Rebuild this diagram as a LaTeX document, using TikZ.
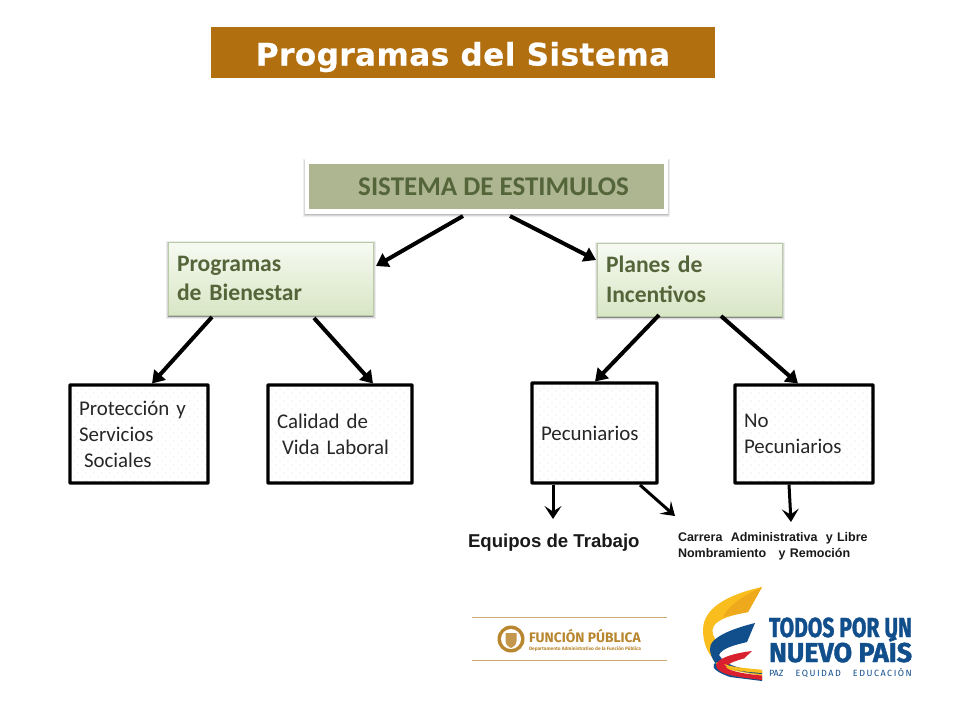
\documentclass[tikz,border=0pt]{standalone}
\usepackage{fontspec}
\setmainfont{Carlito}
\newfontfamily\titlefont[LetterSpace=1.6,BoldFeatures={FakeBold=0.6}]{DejaVu Sans}
\newfontfamily\arialfont{Liberation Sans}
\newfontfamily\logofont{Fira Sans}
\newfontfamily\logoheavy[BoldFeatures={FakeBold=1.5}]{Fira Sans}
\usetikzlibrary{arrows.meta,shadows}
\definecolor{titlebg}{HTML}{B26F0F}
\definecolor{sisbg}{HTML}{ADB691}
\definecolor{olivetext}{HTML}{55653A}
\definecolor{greentop}{HTML}{F7FAF2}
\definecolor{greenbot}{HTML}{D8E6C5}
\definecolor{greenline}{HTML}{B9CBA5}
\definecolor{gold}{HTML}{B8862E}
\definecolor{logoblue}{HTML}{114E8C}
\definecolor{logoyellow}{HTML}{F9BE1E}
\definecolor{logoyellowb}{HTML}{EFA91C}
\definecolor{logored}{HTML}{D8202F}
\tikzset{
  x=1pt,y=-1pt,
  every node/.style={outer sep=0pt},
  softshadow/.style={
    general shadow={shadow xshift=0pt,shadow yshift=-1.5pt,draw=black,fill=black,opacity=0.07,line width=#1+4pt},
    general shadow={shadow xshift=0pt,shadow yshift=-1.5pt,draw=black,fill=black,opacity=0.09,line width=#1+2pt},
    general shadow={shadow xshift=0pt,shadow yshift=-1.5pt,draw=black,fill=black,opacity=0.12,line width=#1}},
  greenbox/.style={draw=greenline,line width=0.8pt,top color=greentop,bottom color=greenbot,
    softshadow=1pt,
    text=olivetext,font=\fontsize{23.6}{29.5}\selectfont\bfseries,align=left,inner sep=0pt,anchor=center},
  dotbox/.style={draw=black,line width=3.4pt,rounded corners=0.5pt,fill=white,inner sep=0pt,anchor=center,
    align=left,font=\fontsize{20.9}{26}\selectfont,text=black!85,
    path picture={
      \foreach \i in {4,12,...,148} \foreach \j in {4,12,...,100}
        \fill[black!38] ([shift={(\i,\j)}]path picture bounding box.north west) circle (0.42);
      \foreach \i in {8,16,...,148} \foreach \j in {8,16,...,100}
        \fill[black!38] ([shift={(\i,\j)}]path picture bounding box.north west) circle (0.42);
    }},
  bigarrow/.style={line width=4pt,-{Triangle[length=12pt,width=15pt]}},
  openarrow/.style={line width=3pt,-{Stealth[length=13pt,width=17pt,inset=5.5pt]}},
  logotext/.style={text=logoblue,font=\logoheavy\bfseries,inner sep=0pt,anchor=base west},
}
\begin{document}
\begin{tikzpicture}
\useasboundingbox (0,0) rectangle (960,720);
\fill[white] (0,0) rectangle (960,720);

\node[fill=titlebg,minimum width=504pt,minimum height=51pt,inner sep=0pt,text=white,
  font=\titlefont\fontsize{31}{36}\selectfont\bfseries] (title) at (463,52.5) {\raisebox{-13pt}[0pt][0pt]{Programas del Sistema}};

\node[fill=sisbg,draw=white,line width=4.5pt,minimum width=359pt,minimum height=50pt,inner sep=0pt,
  softshadow=4.5pt,
  text=olivetext,font=\fontsize{27}{30}\selectfont\bfseries] (sis) at (486.5,186.5) {\hspace*{14pt}SISTEMA DE ESTIMULOS};

\node[greenbox,minimum width=205pt,minimum height=73pt,text width=187pt] (pb) at (270.5,278.5) {Programas\\de Bienestar};
\node[greenbox,minimum width=185pt,minimum height=73pt,text width=167pt] (pi) at (689.5,279.5) {Planes de\\Incentivos};

\node[dotbox,minimum width=138pt,minimum height=98pt,text width=120pt] (prot) at (139,434)
  {Protección y\\Servicios\\\hspace*{5pt}Sociales};
\node[dotbox,minimum width=144pt,minimum height=98pt,text width=126pt] (cal) at (340,434)
  {Calidad de\\\hspace*{5pt}Vida Laboral};
\node[dotbox,minimum width=125pt,minimum height=100pt,text width=107pt] (pec) at (594.5,433)
  {Pecuniarios};
\node[dotbox,minimum width=138pt,minimum height=98pt,text width=120pt] (nop) at (804,434)
  {No\\Pecuniarios};

\node[inner sep=0pt,anchor=base west,text=black!90,font=\arialfont\fontsize{18.6}{22}\selectfont\bfseries] (eq) at (468,547) {Equipos de Trabajo};
\node[inner sep=0pt,anchor=north west,align=left,text=black!90,font=\arialfont\fontsize{12.5}{16}\selectfont\bfseries,
  text width=200pt] (car) at (678,532) {Carrera\ \ Administrativa\ \ y Libre\\Nombramiento\ \ \ y\ Remoción};

\draw[bigarrow] ([shift={(-23.5,4.5)}]sis.south) -- ([shift={(3,-12.5)}]pb.east);
\draw[bigarrow] ([shift={(23.5,4.5)}]sis.south) -- ([shift={(-1,-19.5)}]pi.west);
\draw[bigarrow] ([shift={(-58.5,2)}]pb.south) -- ([shift={(13,-1.5)}]prot.north);
\draw[bigarrow] ([shift={(43.5,3)}]pb.south) -- ([shift={(33,-1.5)}]cal.north);
\draw[bigarrow] ([shift={(-30.5,-1)}]pi.south) -- ([shift={(0.5,-1.5)}]pec.north);
\draw[bigarrow] ([shift={(31.5,0)}]pi.south) -- ([shift={(-6,-1.5)}]nop.north);
\draw[openarrow] ([shift={(-41.5,1.5)}]pec.south) -- ([shift={(-41.5,36)}]pec.south);
\draw[openarrow] ([shift={(45.5,2)}]pec.south) -- ([shift={(80.5,33)}]pec.south);
\draw[openarrow] ([shift={(-15,1.5)}]nop.south) -- ([shift={(-13,39)}]nop.south);

% Funcion Publica logo
\draw[gold!70,line width=0.7pt] (472,617) -- (667,617);
\draw[gold!70,line width=0.7pt] (472,660) -- (667,660);
\fill[gold] (511,639) circle (13.5);
\fill[white] (511,639) circle (10);
\fill[gold!85] (505.5,633) -- (516.5,633) -- (516.5,641) .. controls (516.5,645) and (513,647) .. (511,648) .. controls (509,647) and (505.5,645) .. (505.5,641) -- cycle;
\node[inner sep=0pt,anchor=base west,text=gold,font=\logofont\fontsize{13.8}{15}\selectfont\bfseries] (fp) at (529,642.5) {FUNCIÓN PÚBLICA};
\node[inner sep=0pt,anchor=base west,text=gold,font=\logofont\fontsize{4.8}{6}\selectfont\bfseries] (fpd) at (529,650) {Departamento Administrativo de la Función Pública};

% Todos por un nuevo pais logo
\fill[logoyellow] (762,587) .. controls (735,593) and (703,605) .. (703,630)
  .. controls (703,642) and (707,654) .. (716,661) .. controls (730,668) and (748,668) .. (762,670) -- (762,676) -- (720,668)
  .. controls (708,660) and (716,640) .. (716,640) .. controls (705,625) and (720,617) .. (748,612) -- cycle;
\fill[logoyellowb] (762,587) -- (748,612) -- (723,617) .. controls (728,605) and (745,595) .. (762,587) -- cycle;
\fill[logoblue] (755,623) .. controls (735,628) and (708,637) .. (710,650)
  .. controls (712,665) and (722,670) .. (735,673) -- (762,677) -- (762,681) -- (730,677)
  .. controls (716,672) and (712,668) .. (714,664) .. controls (718,660) and (722,662) .. (728,667)
  .. controls (740,672) and (750,673) .. (762,674) -- (762,672) .. controls (745,670) and (725,666) .. (719,655)
  .. controls (722,648) and (735,645) .. (747,642) -- cycle;
\fill[logored] (752,651) .. controls (735,653) and (716,658) .. (716,666)
  .. controls (718,675) and (738,677) .. (762,680) -- (762,675.5) .. controls (745,674) and (728,671) .. (726,667)
  .. controls (728,663) and (738,660) .. (744,658.5) -- cycle;
\fill[logoyellow] (724,664) .. controls (735,668) and (750,669) .. (762,670) -- (762,673) .. controls (748,672) and (735,671) .. (727,667) -- cycle;

\node[logotext] (t1) at (769,637) {\resizebox{143pt}{19.5pt}{TODOS POR UN}};
\node[logotext] (t2) at (769,662) {\resizebox{143pt}{26pt}{NUEVO PAÍS}};
\node[logotext,font=\logofont\fontsize{9}{10}\selectfont] (t3) at (769,676.5) {PAZ\hspace{12pt}E\,Q\,U\,I\,D\,A\,D\hspace{12pt}E\,D\,U\,C\,A\,C\,I\,Ó\,N};
\end{tikzpicture}
\end{document}
